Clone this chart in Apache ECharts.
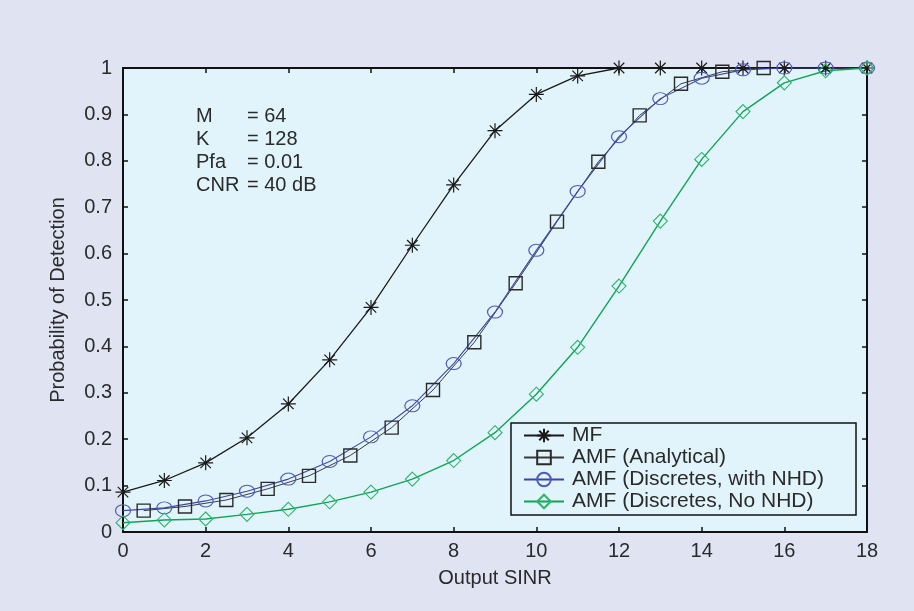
<!DOCTYPE html>
<html><head><meta charset="utf-8">
<script src="https://cdn.jsdelivr.net/npm/echarts@6/dist/echarts.min.js"></script>
<style>html,body{margin:0;padding:0;background:#dfe3f2;}#c{width:914px;height:611px;}</style>
</head><body><div id="c"></div>
<script>
// ---- data ----
const xInt = [0,1,2,3,4,5,6,7,8,9,10,11,12,13,14,15,16,17,18];
const xHalf = [0.5,1.5,2.5,3.5,4.5,5.5,6.5,7.5,8.5,9.5,10.5,11.5,12.5,13.5,14.5,15.5];
const mfValues = [0.086,0.111,0.149,0.203,0.276,0.371,0.484,0.618,0.748,0.865,0.943,0.983,1.0,1.0,1.0,1.0,1.0,1.0,1.0];
const amfAnalytical = [0.046,0.055,0.069,0.093,0.121,0.165,0.225,0.306,0.409,0.536,0.669,0.798,0.898,0.966,0.992,1.0];
const amfWithNHD = [0.046,0.052,0.067,0.088,0.114,0.152,0.205,0.272,0.363,0.474,0.607,0.734,0.852,0.934,0.978,0.996,1.0,1.0,1.0];
const amfNoNHD = [0.02,0.026,0.028,0.038,0.049,0.065,0.086,0.114,0.154,0.214,0.297,0.398,0.53,0.67,0.803,0.906,0.968,0.994,1.0];
const seriesNames = ['MF','AMF (Analytical)','AMF (Discretes, with NHD)','AMF (Discretes, No NHD)'];
const annotation = [['M','= 64'],['K','= 128'],['Pfa','= 0.01'],['CNR','= 40 dB']];
const xTitle = 'Output SINR';
const yTitle = 'Probability of Detection';

const pairs = (xs, ys) => xs.map((x,i)=>[x, ys[i]]);
const FONT = 'Liberation Sans, Arial, Helvetica, sans-serif';
const TXT = '#2a2a2a';

const star = 'path://M0,-10L0,10M-10,0L10,0M-7,-7L7,7M-7,7L7,-7';
const ellipse = 'path://M0,6A8,6 0 1,0 16,6A8,6 0 1,0 0,6Z';

const chart = echarts.init(document.getElementById('c'), null, {renderer:'canvas'});
const axisCommon = () => ({
  min: 0,
  axisLine:{show:true, onZero:false, lineStyle:{color:'#111', width:2}},
  axisTick:{show:true, inside:true, length:5, lineStyle:{color:'#111', width:1.5}},
  splitLine:{show:false}
});
const graphics = [];
annotation.forEach((row,i)=>{
  graphics.push({type:'text', left:196, top:106 + i*23, style:{text:row[0], font:'20px '+FONT, fill:TXT}});
  graphics.push({type:'text', left:247, top:106 + i*23, style:{text:row[1], font:'20px '+FONT, fill:TXT}});
});

chart.setOption({
  backgroundColor:'#dfe3f2',
  animation:false,
  textStyle:{fontFamily:FONT},
  grid:{left:123, right:47, top:68, bottom:79, show:true, backgroundColor:'#e1f4fb', borderWidth:0},
  xAxis:[
    Object.assign(axisCommon(), {type:'value', max:18, interval:2, position:'bottom',
      name:xTitle, nameLocation:'middle', nameGap:36, nameTextStyle:{fontSize:20, color:TXT, fontFamily:FONT},
      axisLabel:{fontSize:20, color:TXT, margin:9, fontFamily:FONT}}),
    Object.assign(axisCommon(), {type:'value', max:18, interval:2, position:'top', axisLabel:{show:false}})
  ],
  yAxis:[
    Object.assign(axisCommon(), {type:'value', max:1, interval:0.1, position:'left',
      name:yTitle, nameLocation:'middle', nameGap:55, nameTextStyle:{fontSize:20, color:TXT, fontFamily:FONT},
      axisLabel:{fontSize:20, color:TXT, margin:11, fontFamily:FONT, formatter:v=>String(+v.toFixed(1))}}),
    Object.assign(axisCommon(), {type:'value', max:1, interval:0.1, position:'right', axisLabel:{show:false}})
  ],
  legend:{
    orient:'vertical', left:511, top:423,
    data:seriesNames,
    borderColor:'#111', borderWidth:1.5, backgroundColor:'#e1f4fb',
    padding:[2,32,3,12], itemGap:1, itemWidth:40, itemHeight:17,
    textStyle:{fontSize:21, color:TXT, fontFamily:FONT, padding:[0,0,0,3]}
  },
  graphic:graphics,
  series:[
    {name:seriesNames[0], type:'line', data:pairs(xInt, mfValues), symbol:star, symbolSize:15,
     lineStyle:{color:'#1a1a1a', width:1.3}, itemStyle:{color:'#1a1a1a', borderColor:'#1a1a1a', borderWidth:1.2}},
    {name:seriesNames[1], type:'line', data:pairs(xHalf, amfAnalytical), symbol:'rect', symbolSize:13,
     lineStyle:{color:'#3a3a3a', width:1}, itemStyle:{color:'rgba(0,0,0,0)', borderColor:'#2a2a2a', borderWidth:1.4}},
    {name:seriesNames[2], type:'line', data:pairs(xInt, amfWithNHD), symbol:ellipse, symbolSize:[15,12],
     lineStyle:{color:'#3b47a6', width:1.1}, itemStyle:{color:'rgba(0,0,0,0)', borderColor:'#4e5abc', borderWidth:1.1}},
    {name:seriesNames[3], type:'line', data:pairs(xInt, amfNoNHD), symbol:'diamond', symbolSize:14,
     lineStyle:{color:'#10a356', width:1.4}, itemStyle:{color:'rgba(0,0,0,0)', borderColor:'#2fb36b', borderWidth:1.1}}
  ]
});
</script></body></html>
